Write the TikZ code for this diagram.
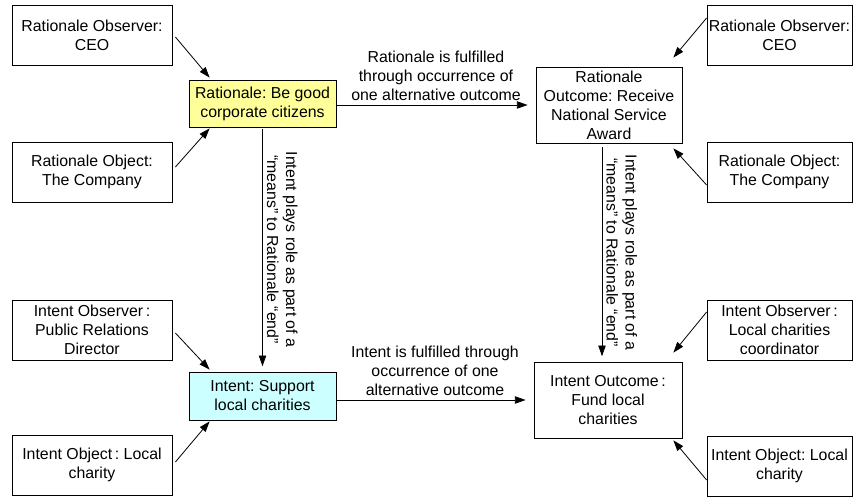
\documentclass[tikz,border=0pt]{standalone}
\usepackage{fontspec}
\setmainfont{Liberation Sans}
\usetikzlibrary{arrows.meta, calc}
\definecolor{ratyellow}{HTML}{FFFF99}
\definecolor{intcyan}{HTML}{CCFFFF}
\frenchspacing
\tikzset{
  box/.style={draw, line width=0.6pt, align=center, inner sep=1pt},
  sidebox/.style={box, minimum width=120pt, minimum height=45pt},
  rsidebox/.style={box, minimum width=108.75pt, minimum height=45pt},
  link/.style={line width=0.6pt, -{Triangle[length=8pt, width=5.5pt]}},
  lbl/.style={align=center, inner sep=3pt}
}
\begin{document}
\begin{tikzpicture}[x=0.75pt, y=0.75pt, font=\fontsize{11.9}{14.3}\selectfont]
 \useasboundingbox (0,0) rectangle (857,499);
 \node [sidebox] (lRobs) at (92,464) {Rationale Observer:\\CEO};
 \node [sidebox] (lRobj) at (92,327) {Rationale Object:\\The Company};
 \node [sidebox] (lIobs) at (92,169) {Intent Observer\,:\\Public Relations\\Director};
 \node [sidebox] (lIobj) at (92,34) {Intent Object\,: Local\\charity};
 \node [box, fill=ratyellow, minimum width=110.25pt, minimum height=35.25pt] (rat) at (262.5,395.5) {Rationale: Be good\\corporate citizens};
 \node [box, fill=intcyan, minimum width=110.25pt, minimum height=36pt] (int) at (262.5,103) {Intent: Support\\local charities};
 \node [box, minimum width=109.5pt, minimum height=57pt] (rout) at (609,394) {Rationale\\Outcome: Receive\\National Service\\Award};
 \node [box, minimum width=111pt, minimum height=57pt] (iout) at (608,99) {Intent Outcome\,:\\Fund local\\charities};
 \node [rsidebox] (rRobs) at (779.5,464) {Rationale Observer:\\CEO};
 \node [rsidebox] (rRobj) at (779.5,327) {Rationale Object:\\The Company};
 \node [rsidebox] (rIobs) at (779.5,169) {Intent Observer\,:\\Local charities\\coordinator};
 \node [rsidebox] (rIobj) at (779.5,33) {Intent Object: Local\\charity};
 \draw [link] ($(lRobs.east)+(3,-2)$) -- ($(rat.north west)+(21,2)$);
 \draw [link] ($(lRobj.east)+(3,5)$) -- ($(rat.south west)+(21,-1)$);
 \draw [link] ($(lIobs.east)+(3,-3)$) -- ($(int.north west)+(21,2)$);
 \draw [link] ($(lIobj.east)+(3,3)$) -- ($(int.south west)+(21,-1)$);
 \draw [link] ($(rRobs.west)+(0,17)$) -- ($(rout.north east)+(-9,9)$);
 \draw [link] ($(rRobj.west)+(0,-13)$) -- ($(rout.south east)+(-9,-5)$);
 \draw [link] ($(rIobs.west)+(0,18)$) -- ($(iout.north east)+(-9,9)$);
 \draw [link] ($(rIobj.west)+(0,-14)$) -- ($(iout.south east)+(-9,-2)$);
 \draw [link, shorten >=6pt] (rat.east |- rout.west) -- node [lbl, above] {Rationale is fulfilled\\through occurrence of\\one alternative outcome} (rout.west);
 \draw [link, shorten >=6pt] (int.east |- iout.west) -- node [lbl, above] {Intent is fulfilled through\\occurrence of one\\alternative outcome} (iout.west);
 \draw [link, shorten <=1.5pt, shorten >=4pt] (rat.south) -- node [lbl, midway, rotate=-90, anchor=south] {Intent plays role as part of a\\“means” to Rationale “end”} (int.north);
 \draw [link, shorten <=3pt, shorten >=4pt] ($(rout.south)+(-7,0)$) -- node [lbl, midway, rotate=-90, anchor=south] {Intent plays role as part of a\\“means” to Rationale “end”} ($(iout.north)+(-6,0)$);
\end{tikzpicture}
\end{document}
